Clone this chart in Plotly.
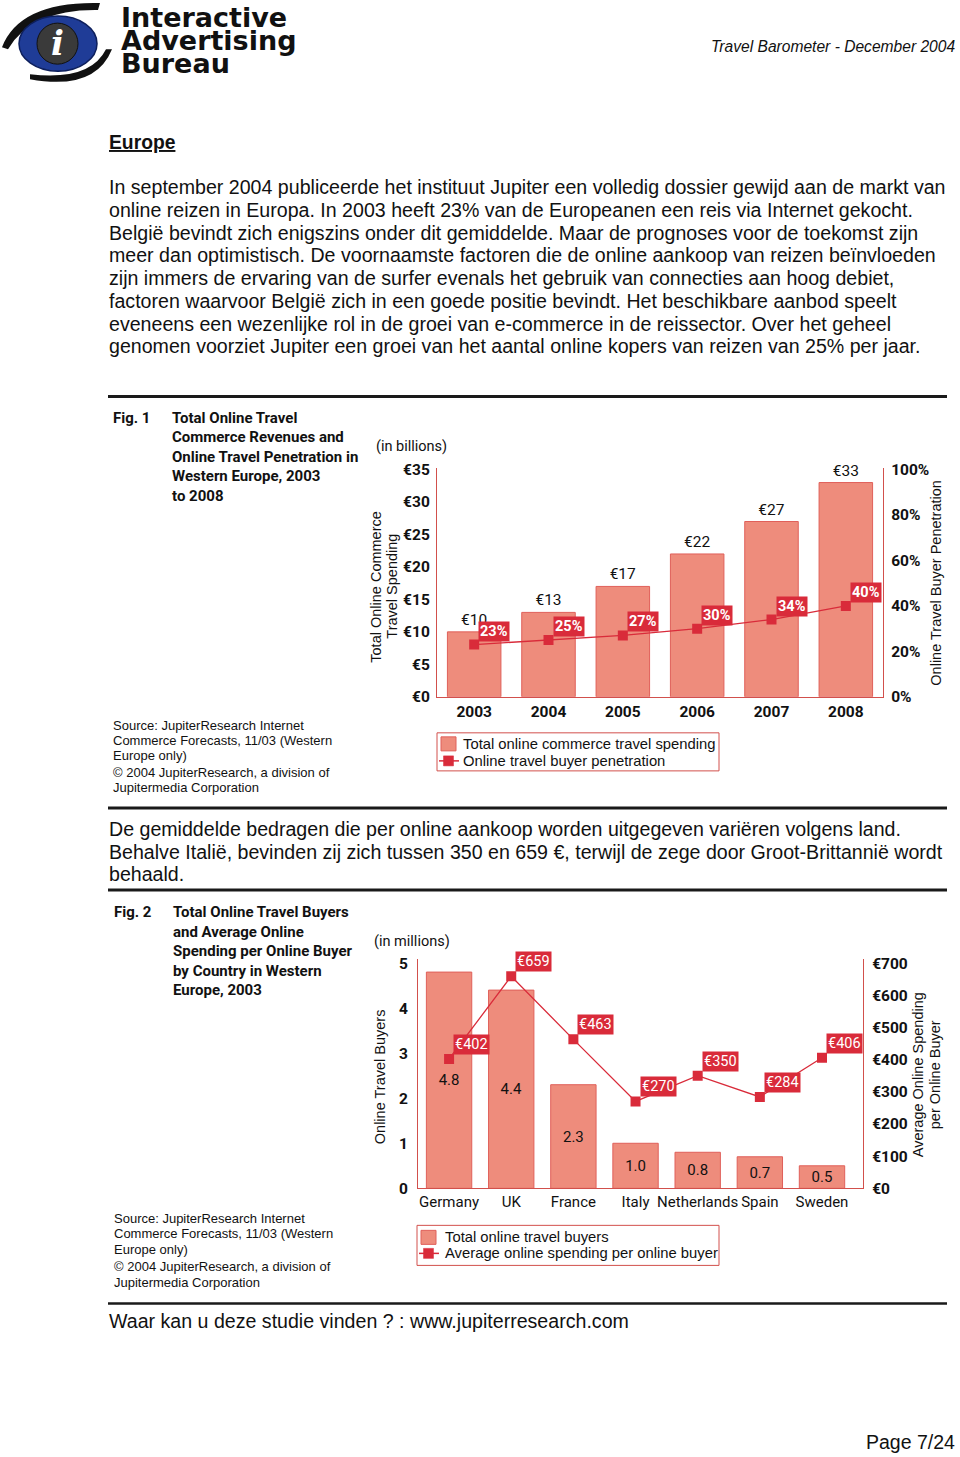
import plotly.graph_objects as go

W, H = 960, 1457
# the photographed page is slightly compressed vertically; compensate here
VA, VB = 0.988, 8.0

# ---------------- data ----------------
years = [2003, 2004, 2005, 2006, 2007, 2008]
spending_bn = [10, 13, 17, 22, 27, 33]
penetration_pct = [23, 25, 27, 30, 34, 40]
spending_labels = ["€10", "€13", "€17", "€22", "€27", "€33"]
penetration_labels = ["23%", "25%", "27%", "30%", "34%", "40%"]

countries = ["Germany", "UK", "France", "Italy", "Netherlands", "Spain", "Sweden"]
buyers_mn = [4.8, 4.4, 2.3, 1.0, 0.8, 0.7, 0.5]
avg_spend = [402, 659, 463, 270, 350, 284, 406]
buyers_labels = ["4.8", "4.4", "2.3", "1.0", "0.8", "0.7", "0.5"]
avg_spend_labels = ["€402", "€659", "€463", "€270", "€350", "€284", "€406"]

fig1_left_ticks = [0, 5, 10, 15, 20, 25, 30, 35]
fig1_left_ticktext = ["€0", "€5", "€10", "€15", "€20", "€25", "€30", "€35"]
fig1_right_ticks = [0, 20, 40, 60, 80, 100]
fig1_right_ticktext = ["0%", "20%", "40%", "60%", "80%", "100%"]
fig2_left_ticks = [0, 1, 2, 3, 4, 5]
fig2_right_ticks = [0, 100, 200, 300, 400, 500, 600, 700]
fig2_right_ticktext = ["€0", "€100", "€200", "€300", "€400", "€500", "€600", "€700"]

paragraph1 = [
    "In september 2004 publiceerde het instituut Jupiter een volledig dossier gewijd aan de markt van",
    "online reizen in Europa. In 2003 heeft 23% van de Europeanen een reis via Internet gekocht.",
    "België bevindt zich enigszins onder dit gemiddelde. Maar de prognoses voor de toekomst zijn",
    "meer dan optimistisch. De voornaamste factoren die de online aankoop van reizen beïnvloeden",
    "zijn immers de ervaring van de surfer evenals het gebruik van connecties aan hoog debiet,",
    "factoren waarvoor België zich in een goede positie bevindt. Het beschikbare aanbod speelt",
    "eveneens een wezenlijke rol in de groei van e-commerce in de reissector. Over het geheel",
    "genomen voorziet Jupiter een groei van het aantal online kopers van reizen van 25% per jaar.",
]
paragraph2 = [
    "De gemiddelde bedragen die per online aankoop worden uitgegeven variëren volgens land.",
    "Behalve Italië, bevinden zij zich tussen 350 en 659 €, terwijl de zege door Groot-Brittannië wordt",
    "behaald.",
]
fig1_title = ["Total Online Travel", "Commerce Revenues and", "Online Travel Penetration in",
              "Western Europe, 2003", "to 2008"]
fig2_title = ["Total Online Travel Buyers", "and Average Online", "Spending per Online Buyer",
              "by Country in Western", "Europe, 2003"]
source_lines = ["Source: JupiterResearch Internet", "Commerce Forecasts, 11/03 (Western",
                "Europe only)", "© 2004 JupiterResearch, a division of", "Jupitermedia Corporation"]
legend1_labels = ["Total online commerce travel spending", "Online travel buyer penetration"]
legend2_labels = ["Total online travel buyers", "Average online spending per online buyer"]

# ---------------- style ----------------
BAR_FILL = "#EE8C7C"
BAR_LINE = "#E0605A"
RED = "#D92B3A"
AXIS_RED = "#D2504C"
COND = "Roboto, Liberation Sans, sans-serif"
SANS = "Liberation Sans, Arial, Helvetica, sans-serif"
DEJA = "DejaVu Sans, sans-serif"


def px(x):
    return x / W


def py(y):
    return 1 - (y / VA - VB) / H


fig = go.Figure()

# ---------------- Fig 1 ----------------
fig.add_trace(go.Bar(
    x=years, y=spending_bn, name=legend1_labels[0],
    marker=dict(color=BAR_FILL, line=dict(color=BAR_LINE, width=1)),
    width=0.72, text=spending_labels, textposition="outside", cliponaxis=False,
    textfont=dict(family=COND, size=15.5, color="#111"),
    xaxis="x", yaxis="y",
))
fig.add_trace(go.Scatter(
    x=years, y=penetration_pct, name=legend1_labels[1],
    mode="lines+markers", line=dict(color=RED, width=1.3),
    marker=dict(symbol="square", size=10, color=RED),
    xaxis="x", yaxis="y2",
))

# ---------------- Fig 2 ----------------
fig.add_trace(go.Bar(
    x=countries, y=buyers_mn, name=legend2_labels[0],
    marker=dict(color=BAR_FILL, line=dict(color=BAR_LINE, width=1)),
    width=0.73, text=buyers_labels, textposition="inside", insidetextanchor="middle",
    constraintext="none",
    textfont=dict(family=COND, size=15, color="#111"),
    xaxis="x2", yaxis="y3",
))
fig.add_trace(go.Scatter(
    x=countries, y=avg_spend, name=legend2_labels[1],
    mode="lines+markers", line=dict(color=RED, width=1.3),
    marker=dict(symbol="square", size=10, color=RED),
    xaxis="x2", yaxis="y4",
))

annotations = []
shapes = []

# value boxes
for yr, v, t in zip(years, penetration_pct, penetration_labels):
    annotations.append(dict(x=yr, y=v, xref="x", yref="y2", text="<b>" + t + "</b>",
                            showarrow=False, xanchor="left", yanchor="bottom",
                            xshift=4, yshift=3, bgcolor=RED, borderpad=1,
                            font=dict(family=COND, size=14.5, color="white")))
for c, v, t in zip(countries, avg_spend, avg_spend_labels):
    annotations.append(dict(x=c, y=v, xref="x2", yref="y4", text=t, showarrow=False,
                            xanchor="left", yanchor="bottom", xshift=4, yshift=4,
                            bgcolor=RED, borderpad=1,
                            font=dict(family=COND, size=14.5, color="white")))


def txt(x, y, text, size=18, family=SANS, color="#111", xanchor="left", yanchor="middle",
        textangle=0):
    annotations.append(dict(x=px(x), y=py(y), xref="paper", yref="paper", text=text,
                            showarrow=False, xanchor=xanchor, yanchor=yanchor,
                            textangle=textangle, align="left",
                            font=dict(family=family, size=size, color=color)))


# header
txt(957, 47, "<i>Travel Barometer - December 2004</i>", size=15.6, xanchor="right")
txt(119, 18, "<b>Interactive</b>", size=27, family=DEJA)
txt(119, 41, "<b>Advertising</b>", size=27, family=DEJA)
txt(119, 64, "<b>Bureau</b>", size=27, family=DEJA)

txt(107, 143, "<b><u>Europe</u></b>", size=19.3)
for i, line in enumerate(paragraph1):
    txt(107, 188 + i * 22.7, line, size=19.6)

# fig 1 caption
txt(111, 418, "<b>Fig. 1</b>", size=15, family=COND)
for i, line in enumerate(fig1_title):
    txt(170, 418 + i * 19.5, "<b>" + line + "</b>", size=15, family=COND)
txt(374, 447, "(in billions)", size=14.5, family=COND)
txt(376, 587, "Total Online Commerce", size=14.5, xanchor="center", textangle=-90)
txt(392, 587, "Travel Spending", size=14.5, xanchor="center", textangle=-90)
txt(936, 583, "Online Travel Buyer Penetration", size=14.5, xanchor="center", textangle=-90)
for line, y in zip(source_lines, [726, 741, 756, 773, 788]):
    txt(111, y, line, size=13)

for line, y in zip(paragraph2, [829, 852, 874]):
    txt(107, y, line, size=19.6)

# fig 2 caption
txt(112, 912, "<b>Fig. 2</b>", size=15, family=COND)
for i, line in enumerate(fig2_title):
    txt(171, 912 + i * 19.5, "<b>" + line + "</b>", size=15, family=COND)
txt(372, 941, "(in millions)", size=14.5, family=COND)
txt(380, 1077, "Online Travel Buyers", size=14.5, xanchor="center", textangle=-90)
txt(918, 1075, "Average Online Spending", size=14.5, xanchor="center", textangle=-90)
txt(935, 1075, "per Online Buyer", size=14.5, xanchor="center", textangle=-90)
for line, y in zip(source_lines, [1218, 1233, 1249, 1266, 1282]):
    txt(112, y, line, size=13)

txt(107, 1321, "Waar kan u deze studie vinden ? : www.jupiterresearch.com", size=19.6)
txt(957, 1441, "Page 7/24", size=19.5, xanchor="right")

# rules
for (y, w) in [(397, 3), (808, 3), (890, 3), (1303, 2.5)]:
    shapes.append(dict(type="line", xref="paper", yref="paper", x0=px(108), x1=px(947),
                       y0=py(y), y1=py(y), line=dict(color="#1a1a1a", width=w)))


def rect(x0, y0, x1, y1, fill, line_color, lw=1):
    shapes.append(dict(type="rect", xref="paper", yref="paper", x0=px(x0), x1=px(x1),
                       y0=py(y1), y1=py(y0), fillcolor=fill,
                       line=dict(color=line_color, width=lw)))


def legend_box(x0, y0, x1, y1, rows, sw_x, text_x, labels):
    rect(x0, y0, x1, y1, "rgba(0,0,0,0)", AXIS_RED, 1)
    ya, yb = rows
    rect(sw_x, ya - 7, sw_x + 15, ya + 7, BAR_FILL, BAR_LINE, 1)
    shapes.append(dict(type="line", xref="paper", yref="paper", x0=px(sw_x - 2),
                       x1=px(sw_x + 18), y0=py(yb), y1=py(yb),
                       line=dict(color=RED, width=1.5)))
    rect(sw_x + 2.5, yb - 5, sw_x + 12.5, yb + 5, RED, RED, 0.5)
    txt(text_x, ya, labels[0], size=14.8)
    txt(text_x, yb, labels[1], size=14.8)


legend_box(437, 733, 719, 771, (744, 761), 441, 461, legend1_labels)
legend_box(417, 1225, 719, 1265, (1237, 1253), 421, 443, legend2_labels)


def path(points):
    s = ""
    for cmd, pts in points:
        s += cmd + " " + " ".join(f"{px(a):.5f},{py(b):.5f}" for a, b in pts) + " "
    return s + "Z"


# logo
shapes.append(dict(type="path", xref="paper", yref="paper",
                   path=path([("M", [(2, 48)]), ("Q", [(20, 2), (100, 4)]),
                              ("L", [(98, 11)]), ("Q", [(32, 10), (8, 50)])]),
                   fillcolor="#111", line=dict(width=0)))
shapes.append(dict(type="path", xref="paper", yref="paper",
                   path=path([("M", [(30, 80)]), ("Q", [(95, 92), (112, 50)]),
                              ("L", [(106, 50)]), ("Q", [(90, 82), (30, 75)])]),
                   fillcolor="#111", line=dict(width=0)))
shapes.append(dict(type="circle", xref="paper", yref="paper",
                   x0=px(19), x1=px(97), y0=py(72), y1=py(17),
                   fillcolor="#1f3c97", line=dict(color="#0d1f5c", width=1.5)))
shapes.append(dict(type="circle", xref="paper", yref="paper",
                   x0=px(37), x1=px(78), y0=py(65), y1=py(24),
                   fillcolor="#3a3a3a", line=dict(color="#111", width=1)))
annotations.append(dict(x=px(57), y=py(44), xref="paper", yref="paper", text="<b><i>i</i></b>",
                        showarrow=False, xanchor="center", yanchor="middle",
                        font=dict(family="DejaVu Serif, serif", size=34, color="white")))

tick_b = dict(family=COND, size=15.5, color="#111")
fig.update_layout(
    width=W, height=H, autosize=False,
    margin=dict(l=0, r=0, t=0, b=0),
    paper_bgcolor="white", plot_bgcolor="rgba(0,0,0,0)",
    barmode="overlay", showlegend=False,
    annotations=annotations, shapes=shapes,
    xaxis=dict(domain=[px(437), px(883)], anchor="y", type="linear",
               range=[years[0] - 0.5, years[-1] + 0.5],
               showline=True, linecolor=AXIS_RED, linewidth=1.2, ticks="",
               showgrid=False, zeroline=False, tickfont=tick_b, tickangle=0,
               tickvals=years, ticktext=["<b>" + str(y) + "</b>" for y in years]),
    yaxis=dict(domain=[py(697), py(697 - 35.3 * 6.486)], range=[0, 35.3], anchor="x",
               showline=True, linecolor=AXIS_RED, linewidth=1.2, showgrid=False,
               zeroline=False, ticks="", tickvals=fig1_left_ticks,
               ticktext=["<b>" + t + "</b>" for t in fig1_left_ticktext],
               tickfont=tick_b, ticklabelstandoff=3),
    yaxis2=dict(overlaying="y", side="right", anchor="x", range=[0, 35.3 / 35 * 100],
                showline=True, linecolor=AXIS_RED, linewidth=1.2, showgrid=False,
                zeroline=False, ticks="", tickvals=fig1_right_ticks,
                ticktext=["<b>" + t + "</b>" for t in fig1_right_ticktext],
                tickfont=tick_b, ticklabelstandoff=4),
    xaxis2=dict(domain=[px(418), px(863)], anchor="y3", type="category",
                showline=True, linecolor=AXIS_RED, linewidth=1.2, ticks="",
                showgrid=False, zeroline=False, tickangle=0,
                tickfont=dict(family=COND, size=15, color="#111")),
    yaxis3=dict(domain=[py(1188), py(1188 - 5.1 * 45)], range=[0, 5.1], anchor="x2",
                showline=True, linecolor=AXIS_RED, linewidth=1.2, showgrid=False,
                zeroline=False, ticks="", tickvals=fig2_left_ticks,
                ticktext=["<b>" + str(t) + "</b>" for t in fig2_left_ticks],
                tickfont=tick_b, ticklabelstandoff=6),
    yaxis4=dict(overlaying="y3", side="right", anchor="x2", range=[0, 714],
                showline=True, linecolor=AXIS_RED, linewidth=1.2, showgrid=False,
                zeroline=False, ticks="", tickvals=fig2_right_ticks,
                ticktext=["<b>" + t + "</b>" for t in fig2_right_ticktext],
                tickfont=tick_b, ticklabelstandoff=5),
)

fig.write_html("out.html", config={"displayModeBar": False},
               post_script="document.body.style.margin='0';")
